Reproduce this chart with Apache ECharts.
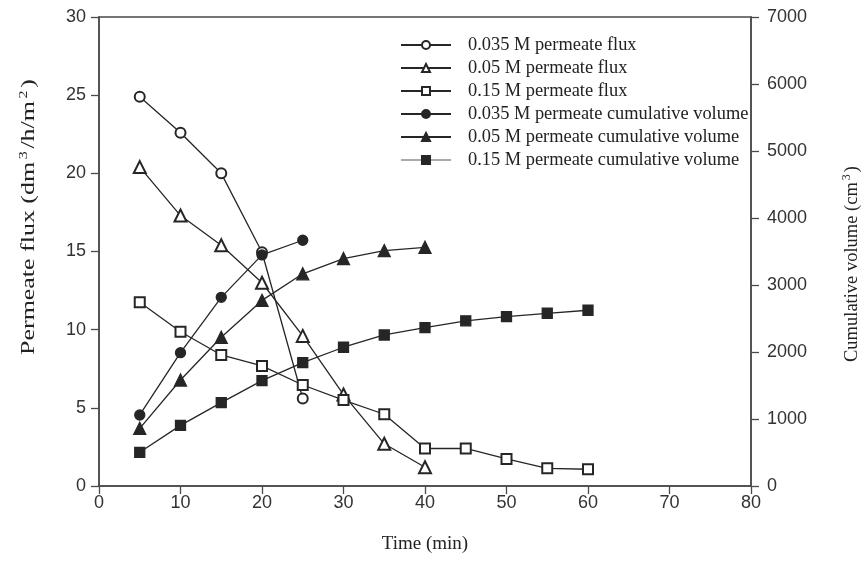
<!DOCTYPE html>
<html><head><meta charset="utf-8">
<script src="https://cdn.jsdelivr.net/npm/echarts@6/dist/echarts.min.js"></script>
<style>html,body{margin:0;padding:0;background:#fff}#c{width:864px;height:563px}</style>
</head><body><div id="c"></div>
<script>
const seriesNames = [
  '0.035 M permeate flux',
  '0.05 M permeate flux',
  '0.15 M permeate flux',
  '0.035 M permeate cumulative volume',
  '0.05 M permeate cumulative volume',
  '0.15 M permeate cumulative volume'
];
const time035 = [5, 10, 15, 20, 25];
const time05 = [5, 10, 15, 20, 25, 30, 35, 40];
const time15 = [5, 10, 15, 20, 25, 30, 35, 40, 45, 50, 55, 60];
const flux035 = [24.9, 22.6, 20.0, 14.95, 5.6];
const flux05 = [20.4, 17.3, 15.4, 13.0, 9.6, 5.85, 2.7, 1.2];
const flux15 = [11.75, 9.87, 8.38, 7.68, 6.46, 5.5, 4.59, 2.4, 2.4, 1.73, 1.13, 1.07];
const vol035 = [1060, 1990, 2816, 3449, 3668];
const vol05 = [861, 1582, 2220, 2770, 3167, 3395, 3513, 3563];
const vol15 = [503, 905, 1244, 1572, 1841, 2071, 2254, 2364, 2466, 2527, 2578, 2623];
const xTicks = {min: 0, max: 80, interval: 10};
const yLeftTicks = {min: 0, max: 30, interval: 5};
const yRightTicks = {min: 0, max: 7000, interval: 1000};
const xTitle = 'Time (min)';
const yLeftTitle = 'Permeate flux (dm{sup|3}/h/m{sup|2})';
const yRightTitle = 'Cumulative volume (cm{sup|3})';

const pairs = (xs, ys) => xs.map((x, i) => [x, ys[i]]);
const serif = '"Liberation Serif", "Times New Roman", serif';
const sans = '"Liberation Sans", Arial, sans-serif';
const ink = '#262626';
const axisInk = '#4a4a4a';

function mk(name, xs, ys, axis, symbol, size) {
  return {
    name, type: 'line', yAxisIndex: axis, data: pairs(xs, ys),
    symbol, symbolSize: size,
    lineStyle: {color: ink, width: 1.3},
    itemStyle: {color: ink, borderColor: ink, borderWidth: 1.3},
    emphasis: {disabled: true}, z: symbol.startsWith('empty') ? 3 : 4
  };
}

const labelBase = {color: '#333', fontFamily: sans, fontSize: 18, formatter: v => String(v)};
const axisCommon = {
  axisLine: {show: true, lineStyle: {color: axisInk, width: 1.5}},
  axisTick: {show: true, inside: false, length: 8, lineStyle: {color: axisInk, width: 1.3}},
  splitLine: {show: false}
};
const richSup = {sup: {fontFamily: serif, fontSize: 12, fill: '#222', padding: [0, 2, 11, 2]}};

const chart = echarts.init(document.getElementById('c'), null, {renderer: 'canvas'});
chart.setOption({
  backgroundColor: '#fff',
  animation: false,
  grid: {left: 99, right: 113, top: 17, bottom: 77, show: true, borderColor: axisInk, borderWidth: 1.5, containLabel: false},
  legend: {
    orient: 'vertical', left: 395, top: 31,
    itemWidth: 50, itemHeight: 10, itemGap: 5,
    textStyle: {fontFamily: serif, fontSize: 18.4, color: '#222', lineHeight: 18, padding: [0, 0, 0, 12]},
    data: seriesNames.map((n, i) => i === 5 ? {name: n, lineStyle: {color: '#aaa'}} : {name: n}),
    selectedMode: false
  },
  xAxis: Object.assign({}, axisCommon, {
    type: 'value', min: xTicks.min, max: xTicks.max, interval: xTicks.interval,
    name: xTitle, nameLocation: 'middle', nameGap: 49,
    nameTextStyle: {fontFamily: serif, fontSize: 19, color: '#222'},
    axisLabel: Object.assign({}, labelBase, {margin: 8})
  }),
  yAxis: [
    Object.assign({}, axisCommon, {
      type: 'value', position: 'left', min: yLeftTicks.min, max: yLeftTicks.max, interval: yLeftTicks.interval,
      axisLabel: Object.assign({}, labelBase, {margin: 13})
    }),
    Object.assign({}, axisCommon, {
      type: 'value', position: 'right', min: yRightTicks.min, max: yRightTicks.max, interval: yRightTicks.interval,
      axisLabel: Object.assign({}, labelBase, {margin: 16})
    })
  ],
  graphic: [
    {type: 'text', x: 29, y: 217, rotation: Math.PI / 2, scaleX: 1.33, silent: true,
     style: {text: yLeftTitle, rich: richSup, fontFamily: serif, fontSize: 19.5, fill: '#222', align: 'center', verticalAlign: 'middle'}},
    {type: 'text', x: 852, y: 264, rotation: Math.PI / 2, silent: true,
     style: {text: yRightTitle, rich: richSup, fontFamily: serif, fontSize: 18.5, fill: '#222', align: 'center', verticalAlign: 'middle'}}
  ],
  series: [
    mk(seriesNames[0], time035, flux035, 0, 'emptyCircle', 10),
    mk(seriesNames[1], time05, flux05, 0, 'emptyTriangle', 12),
    mk(seriesNames[2], time15, flux15, 0, 'emptyRect', 10),
    mk(seriesNames[3], time035, vol035, 1, 'circle', 10),
    mk(seriesNames[4], time05, vol05, 1, 'triangle', 12),
    mk(seriesNames[5], time15, vol15, 1, 'rect', 10)
  ]
});
</script></body></html>
